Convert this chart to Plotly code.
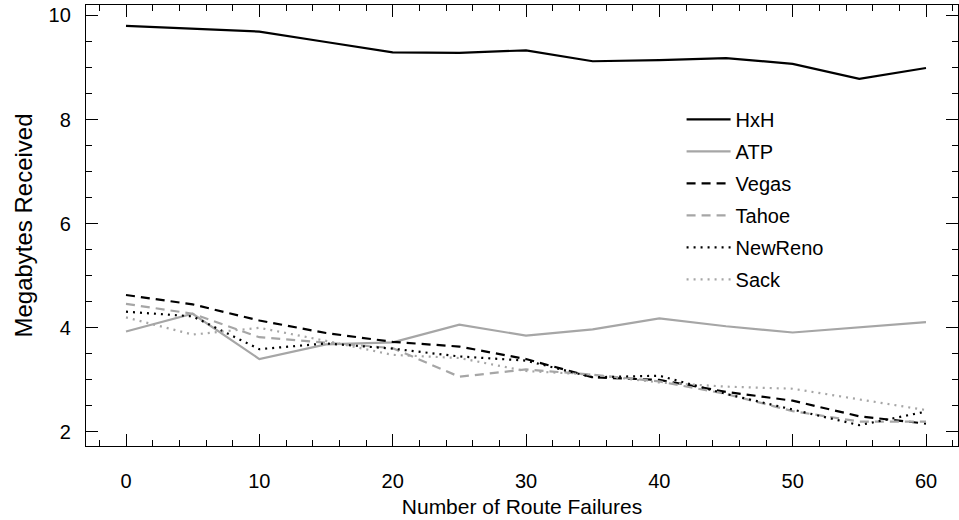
import plotly.graph_objects as go

failures = [0, 5, 10, 15, 20, 25, 30, 35, 40, 45, 50, 55, 60]
hxh     = [9.80, 9.74, 9.69, 9.49, 9.29, 9.28, 9.33, 9.12, 9.14, 9.18, 9.07, 8.78, 8.99]
atp     = [3.93, 4.27, 3.40, 3.68, 3.72, 4.06, 3.85, 3.97, 4.18, 4.03, 3.91, 4.01, 4.11]
vegas   = [4.63, 4.45, 4.14, 3.90, 3.73, 3.64, 3.40, 3.05, 3.00, 2.77, 2.60, 2.30, 2.16]
tahoe   = [4.46, 4.27, 3.82, 3.72, 3.61, 3.06, 3.20, 3.10, 2.97, 2.73, 2.40, 2.20, 2.20]
newreno = [4.31, 4.22, 3.59, 3.70, 3.60, 3.45, 3.37, 3.05, 3.08, 2.73, 2.43, 2.13, 2.39]
sack    = [4.20, 3.87, 4.00, 3.75, 3.48, 3.42, 3.17, 3.10, 2.95, 2.87, 2.83, 2.62, 2.42]

names = ["HxH", "ATP", "Vegas", "Tahoe", "NewReno", "Sack"]
series = [hxh, atp, vegas, tahoe, newreno, sack]
GRAY = "#a6a6a6"
styles = [
    dict(color="black", width=2.2, dash="solid"),
    dict(color=GRAY, width=2.2, dash="solid"),
    dict(color="black", width=2.2, dash="9px,6px"),
    dict(color=GRAY, width=2.2, dash="9px,6px"),
    dict(color="black", width=2.2, dash="2px,5px"),
    dict(color=GRAY, width=2.2, dash="2px,5px"),
]

fig = go.Figure()
for n, s, st in zip(names, series, styles):
    fig.add_trace(go.Scatter(x=failures, y=s, mode="lines", name=n, line=st,
                             legendgroup=n))

FONT = "Arial, Liberation Sans, sans-serif"
axis_common = dict(
    showline=True, linecolor="black", linewidth=1.3, mirror="allticks",
    ticks="inside", ticklen=12, tickwidth=1.2, tickcolor="black",
    showgrid=False, zeroline=False,
    tickfont=dict(family=FONT, size=20, color="black"),
)
fig.update_xaxes(range=[-3.0, 62.4], tickvals=[0, 10, 20, 30, 40, 50, 60],
                 minor=dict(ticks="inside", dtick=2, ticklen=6, tickwidth=1.2, tickcolor="black", showgrid=False),
                 title=dict(text="Number of Route Failures", font=dict(family=FONT, size=21, color="black"), standoff=8),
                 ticklabelstandoff=17, **axis_common)
fig.update_yaxes(range=[1.73, 10.2], tickvals=[2, 4, 6, 8, 10],
                 minor=dict(ticks="inside", dtick=0.5, ticklen=6, tickwidth=1.2, tickcolor="black", showgrid=False),
                 title=dict(text="Megabytes Received", font=dict(family=FONT, size=24, color="black"), standoff=9),
                 ticklabelstandoff=10, **axis_common)

fig.update_layout(
    width=959, height=520,
    margin=dict(l=86, r=1, t=5, b=74),
    paper_bgcolor="white", plot_bgcolor="white",
    showlegend=True,
    legend=dict(x=0.683, y=0.785, xanchor="left", yanchor="top",
                font=dict(family=FONT, size=20, color="black"),
                bgcolor="rgba(0,0,0,0)", tracegroupgap=3, itemwidth=44),
)

fig.write_html("out.html", config={"displayModeBar": False},
               post_script="document.body.style.margin='0';")
